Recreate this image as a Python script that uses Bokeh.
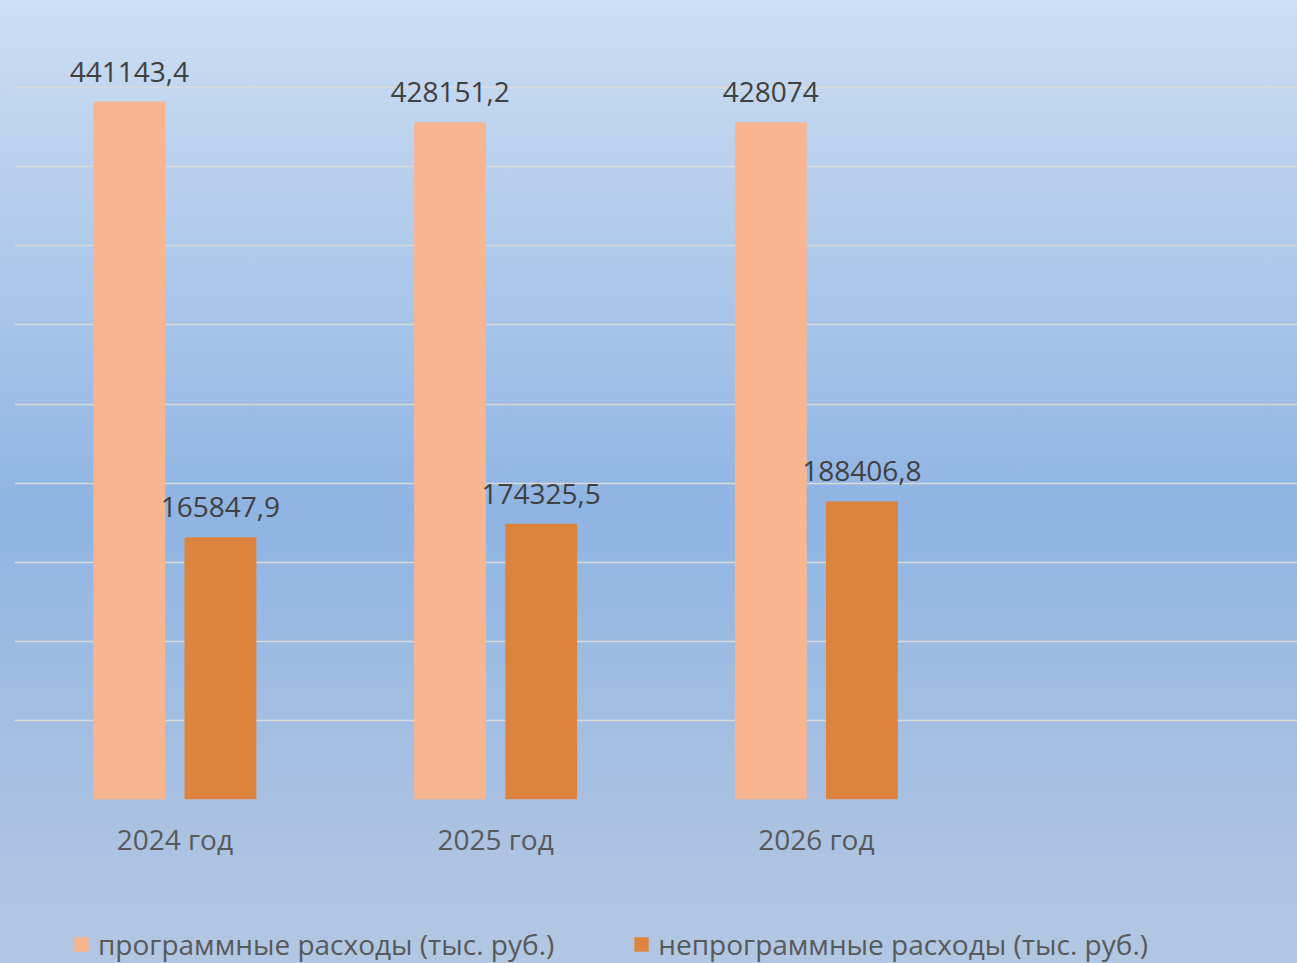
from bokeh.plotting import figure
from bokeh.layouts import column
from bokeh.models import ColumnDataSource, Range1d, FixedTicker, SingleIntervalTicker, Legend, LegendItem
from bokeh.core.properties import value
from bokeh.embed import file_html
from bokeh.resources import INLINE

years = ["2024 год", "2025 год", "2026 год"]
prog = [441143.4, 428151.2, 428074.0]
nonprog = [165847.9, 174325.5, 188406.8]
prog_labels = ["441143,4", "428151,2", "428074"]
nonprog_labels = ["165847,9", "174325,5", "188406,8"]
series_names = ["программные расходы (тыс. руб.)", "непрограммные расходы (тыс. руб.)"]

FONT = "Open Sans"
PINK = "#F9B590"
ORANGE = "#DC843E"
GRADIENT = ("linear-gradient(180deg, #cde0f4 0%, #c9dbf1 3%, #b4cdec 22%, #a2c0e8 38%, "
            "#8eb4e3 53%, #9fbce2 70%, #adc3e2 90%, #b2c7e3 100%)")

xc = [i + 0.5 for i in range(len(years))]
off = 0.142
src = ColumnDataSource(dict(
    xp=[x - off for x in xc], xo=[x + off for x in xc],
    prog=prog, nonprog=nonprog, pl=prog_labels, nl=nonprog_labels,
))

p = figure(width=1297, height=900, output_backend="svg", toolbar_location=None,
           x_range=Range1d(0, 4.0), y_range=Range1d(0, 500000),
           min_border_left=14, min_border_right=0, min_border_top=8, min_border_bottom=101)
p.background_fill_color = None
p.border_fill_color = None
p.outline_line_color = None

p.vbar(x="xp", top="prog", width=0.224, source=src, fill_color=PINK, line_color=None)
p.vbar(x="xo", top="nonprog", width=0.224, source=src, fill_color=ORANGE, line_color=None)

p.text(x="xp", y="prog", text="pl", source=src, text_font=value(FONT), text_font_size="28px",
       text_color="#404040", text_align="center", text_baseline="alphabetic", y_offset=-30)
p.text(x="xo", y="nonprog", text="nl", source=src, text_font=value(FONT), text_font_size="28px",
       text_color="#404040", text_align="center", text_baseline="alphabetic", y_offset=-30)

p.yaxis.visible = False
p.xgrid.visible = False
p.ygrid.ticker = SingleIntervalTicker(interval=50000)
p.ygrid.grid_line_color = "#d9d9d9"
p.ygrid.grid_line_width = 1.5

xa = p.xaxis[0]
xa.ticker = FixedTicker(ticks=xc)
xa.major_label_overrides = {x: y for x, y in zip(xc, years)}
xa.axis_line_color = None
xa.major_tick_line_color = None
xa.minor_tick_line_color = None
xa.major_label_text_font = FONT
xa.major_label_text_font_size = "28px"
xa.major_label_text_color = "#595959"
xa.major_label_standoff = 14

# legend strip (same series, ranges chosen so only the legend shows)
lg = figure(width=1297, height=63, output_backend="svg", toolbar_location=None,
            x_range=Range1d(10, 11), y_range=Range1d(-2, -1),
            min_border=0)
lg.background_fill_color = None
lg.border_fill_color = None
lg.outline_line_color = None
lg.axis.visible = False
lg.grid.visible = False
l1 = lg.vbar(x="xp", top="prog", width=0.224, source=src, fill_color=PINK, line_color=None)
l2 = lg.vbar(x="xo", top="nonprog", width=0.224, source=src, fill_color=ORANGE, line_color=None)

legend = Legend(items=[LegendItem(label=series_names[0], renderers=[l1], index=0),
                       LegendItem(label=series_names[1], renderers=[l2], index=0)],
                orientation="horizontal", location=(58, 0))
legend.label_text_font = FONT
legend.label_text_font_size = "28px"
legend.label_text_color = "#595959"
legend.glyph_width = 18
legend.glyph_height = 18
legend.label_standoff = 8
legend.spacing = 78
legend.padding = 0
legend.margin = 0
legend.background_fill_alpha = 0
legend.border_line_color = None
legend.label_height = 18
lg.add_layout(legend, "center")

layout = column(p, lg, spacing=0, styles={"background-image": GRADIENT})

open("out.html", "w").write(file_html(layout, INLINE))
